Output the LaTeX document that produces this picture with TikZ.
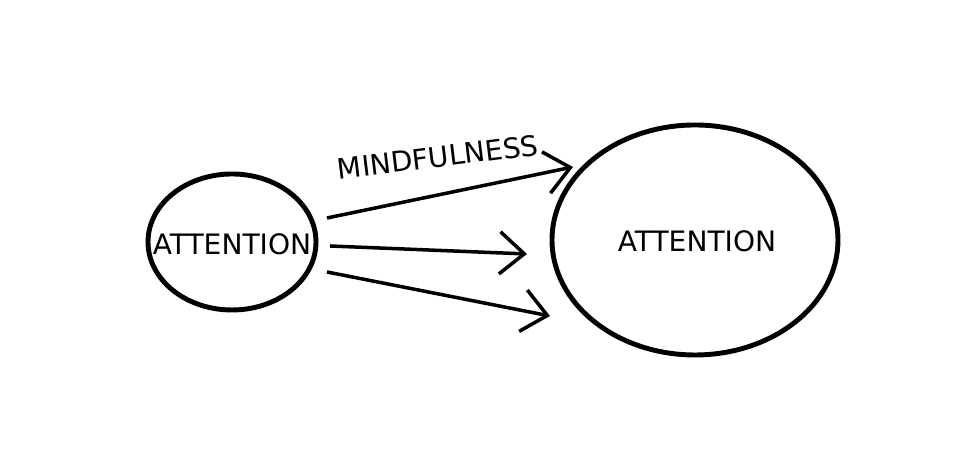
\documentclass[tikz,border=0pt]{standalone}
\usepackage{fontspec}
\setmainfont{DejaVu Sans}
\usetikzlibrary{arrows.meta}
\tikzset{
	ring/.style={line width=1.4pt},
	word/.style={font=\footnotesize,inner sep=1pt},
	flow/.style={line width=1pt,-{Straight Barb[length=7pt,width=12pt,line width=1pt]}}
}
\begin{document}
\begin{tikzpicture}
	\useasboundingbox (0,0) rectangle (9.8,4.74);
	% attention before and after
	\draw[ring] (2.32,2.32) ellipse (0.84 and 0.68);
	\draw[ring] (6.95,2.34) ellipse (1.43 and 1.15);
	\node[word] (small) at (2.32,2.30) {ATTENTION};
	\node[word] (big) at (6.97,2.33) {ATTENTION};

	% arrow ends
	\coordinate (s1) at (3.27,2.56);
	\coordinate (s2) at (3.30,2.28);
	\coordinate (s3) at (3.27,2.02);
	\coordinate (t1) at (5.73,3.07);
	\coordinate (t2) at (5.27,2.20);
	\coordinate (t3) at (5.50,1.58);

	\draw[flow] (s1) -- (t1);
	\draw[flow] (s2) -- (t2);
	\draw[flow] (s3) -- (t3);
	\node[word,rotate=7] (lbl) at (4.38,3.17) {MINDFULNESS};
\end{tikzpicture}
\end{document}
